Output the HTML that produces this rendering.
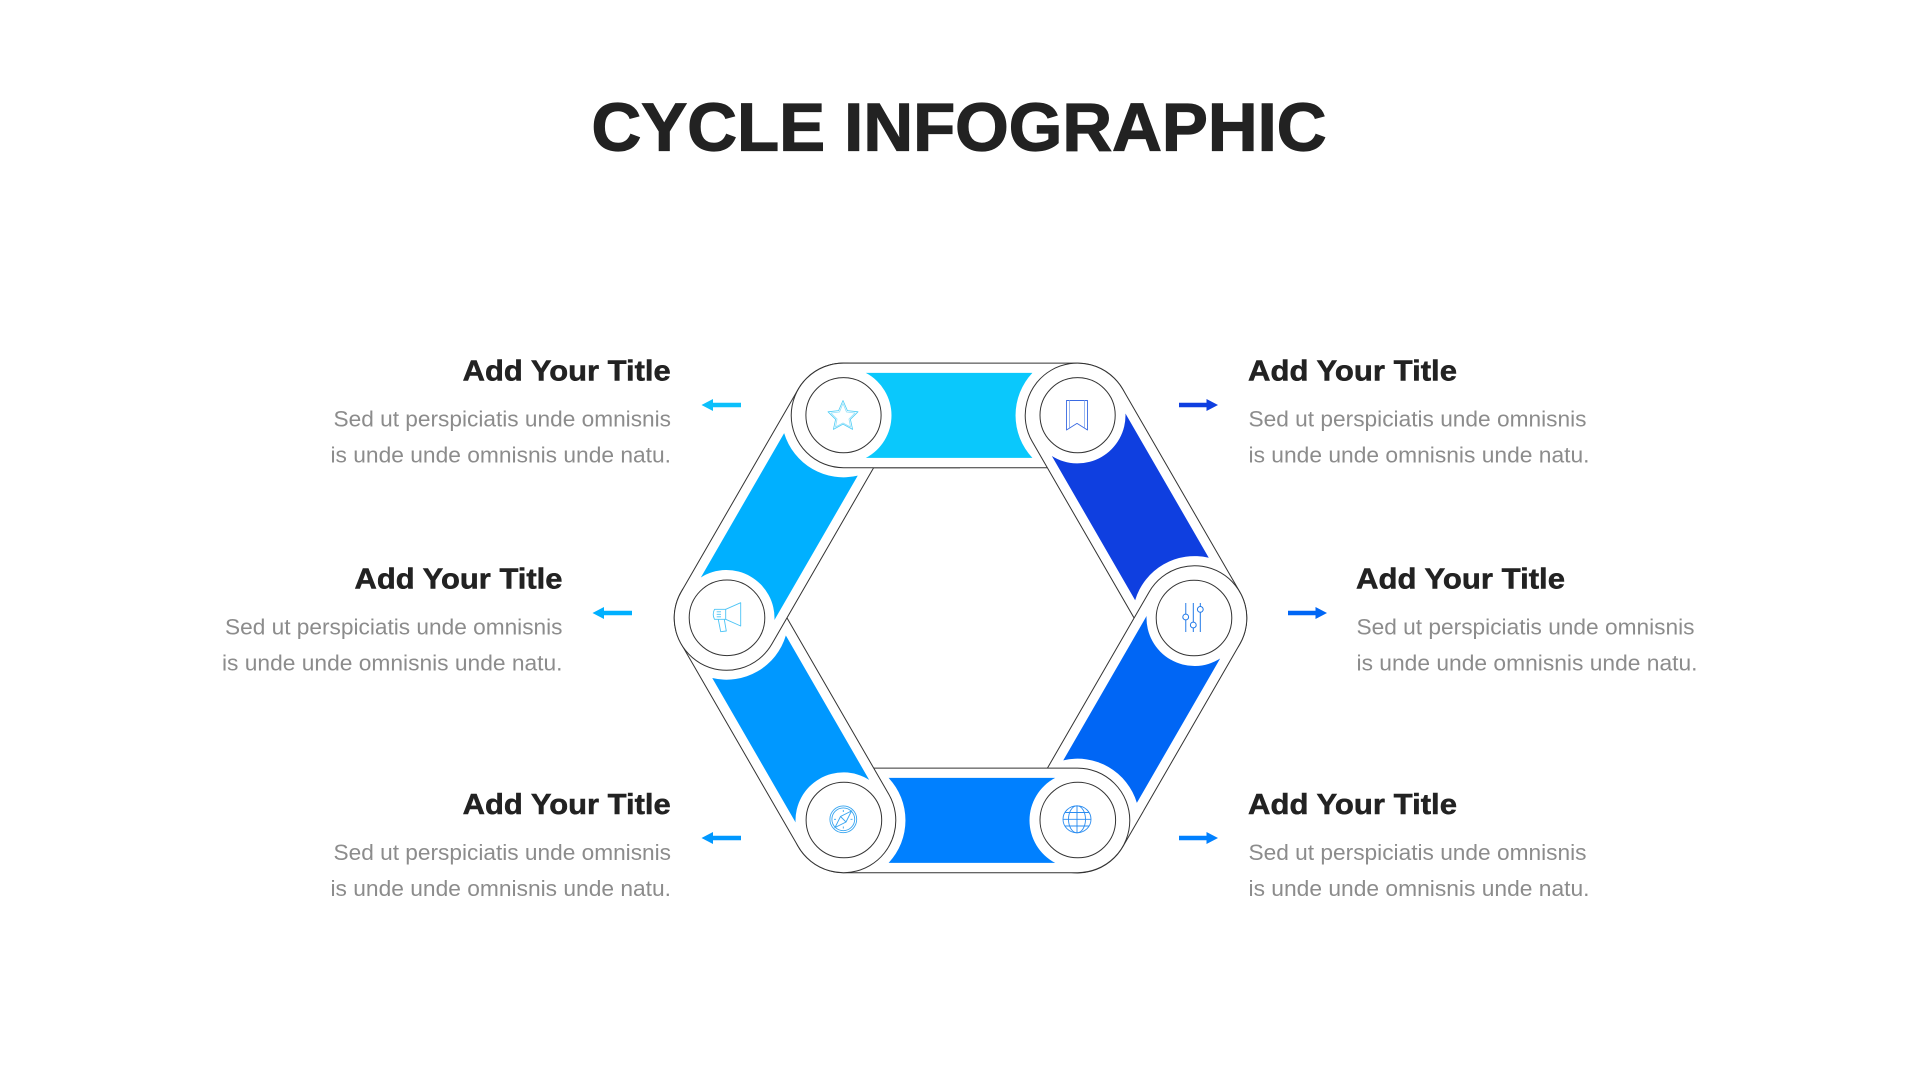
<!DOCTYPE html>
<html>
<head>
<meta charset="utf-8">
<title>Cycle Infographic</title>
<style>
html,body{margin:0;padding:0;background:#fff;width:1920px;height:1080px;overflow:hidden}
svg{display:block}
text{font-family:"Liberation Sans",Arial,sans-serif}
.t{font-size:29px;font-weight:700;fill:#222;stroke:#222;stroke-width:.5}
.b{font-size:22.5px;fill:#8c8c8c}
.s{fill:#fff;stroke:#333;stroke-width:1}
.c{fill:#fff;stroke:#333;stroke-width:1}
</style>
</head>
<body>
<svg width="1920" height="1080" viewBox="0 0 1920 1080" xmlns="http://www.w3.org/2000/svg">
<defs>
<clipPath id="lh"><rect x="0" y="0" width="960" height="1080"/></clipPath>
</defs>
<rect width="1920" height="1080" fill="#fff"/>

<text x="591.5" y="150.7" font-size="68" font-weight="700" fill="#222" stroke="#222" stroke-width="1.2" textLength="735" lengthAdjust="spacingAndGlyphs">CYCLE INFOGRAPHIC</text>

<!-- stadiums -->
<g>
<path class="s" transform="translate(843.5 415.4)" d="M0 -52.3H234A52.3 52.3 0 0 1 234 52.3H0A52.3 52.3 0 0 1 0 -52.3Z"/>
<path class="s" transform="translate(1077.5 415.4) rotate(60)" d="M0 -52.3H234A52.3 52.3 0 0 1 234 52.3H0A52.3 52.3 0 0 1 0 -52.3Z"/>
<path class="s" transform="translate(1194.5 618) rotate(120)" d="M0 -52.3H234A52.3 52.3 0 0 1 234 52.3H0A52.3 52.3 0 0 1 0 -52.3Z"/>
<path class="s" transform="translate(1077.5 820.4) rotate(180)" d="M0 -52.3H234A52.3 52.3 0 0 1 234 52.3H0A52.3 52.3 0 0 1 0 -52.3Z"/>
<path class="s" transform="translate(843.5 820.4) rotate(240)" d="M0 -52.3H234A52.3 52.3 0 0 1 234 52.3H0A52.3 52.3 0 0 1 0 -52.3Z"/>
<path class="s" transform="translate(726.5 618) rotate(300)" d="M0 -52.3H234A52.3 52.3 0 0 1 234 52.3H0A52.3 52.3 0 0 1 0 -52.3Z"/>
<g clip-path="url(#lh)">
<path class="s" transform="translate(843.5 415.4)" d="M0 -52.3H234A52.3 52.3 0 0 1 234 52.3H0A52.3 52.3 0 0 1 0 -52.3Z"/>
</g>
</g>

<!-- coloured bands -->
<g>
<path fill="#0ac8fc" transform="translate(843.5 415.4)" d="M22.3 -42.5H188.9A62 62 0 0 0 188.9 42.5H22.3A48 48 0 0 0 22.3 -42.5Z"/>
<path fill="#0f3fe0" transform="translate(1077.5 415.4) rotate(60)" d="M22.3 -42.5H188.9A62 62 0 0 0 188.9 42.5H22.3A48 48 0 0 0 22.3 -42.5Z"/>
<path fill="#0066f5" transform="translate(1194.5 618) rotate(120)" d="M22.3 -42.5H188.9A62 62 0 0 0 188.9 42.5H22.3A48 48 0 0 0 22.3 -42.5Z"/>
<path fill="#0080ff" transform="translate(1077.5 820.4) rotate(180)" d="M22.3 -42.5H188.9A62 62 0 0 0 188.9 42.5H22.3A48 48 0 0 0 22.3 -42.5Z"/>
<path fill="#0098ff" transform="translate(843.5 820.4) rotate(240)" d="M22.3 -42.5H188.9A62 62 0 0 0 188.9 42.5H22.3A48 48 0 0 0 22.3 -42.5Z"/>
<path fill="#00b0ff" transform="translate(726.5 618) rotate(300)" d="M22.3 -42.5H188.9A62 62 0 0 0 188.9 42.5H22.3A48 48 0 0 0 22.3 -42.5Z"/>
</g>

<!-- inner circles -->
<circle class="c" cx="843.5" cy="415.2" r="37.6"/>
<circle class="c" cx="1077.6" cy="415.2" r="37.6"/>
<circle class="c" cx="1194" cy="618" r="37.8"/>
<circle class="c" cx="1077.8" cy="820" r="37.8"/>
<circle class="c" cx="843.9" cy="820" r="37.8"/>
<circle class="c" cx="727" cy="617.8" r="37.8"/>

<!-- star -->
<g fill="none" stroke="#4ccdf6" stroke-width=".8" stroke-linejoin="round">
<path d="M843 400.5 L847.4 410.6 L858 411.8 L850.4 419.3 L852.6 429.4 L843 424.2 L833.4 429.4 L835.6 419.3 L828 411.8 L838.6 410.6Z"/>
<path opacity=".6" d="M843 403.5 L846.5 412 L855 413 L849 419 L850.5 427 L843 423 L835.5 427 L837 419 L831 413 L839.5 412Z"/>
</g>

<!-- bookmark -->
<g fill="none" stroke="#3a6ae2" stroke-width=".9" stroke-linejoin="round">
<path d="M1066.5 400.5H1087.5V430L1077 423.4L1066.5 430Z"/>
<path stroke="#8fb0f0" d="M1069.5 400.5V427.5M1084.5 400.5V427.5"/>
</g>

<!-- sliders -->
<g fill="#fff" stroke="#1f78e8" stroke-width="1">
<path d="M1185.7 603V614M1185.7 620V632" stroke="#5a9cee" stroke-width="1.3"/>
<path d="M1193.3 603V622M1193.3 628V632"/>
<path d="M1200.3 603V606.5M1200.3 612.5V632"/>
<circle cx="1185.7" cy="617" r="2.9"/>
<circle cx="1193.3" cy="625" r="2.9"/>
<circle cx="1200.3" cy="609.4" r="2.9"/>
</g>

<!-- globe -->
<g fill="none" stroke="#2a8cf0" stroke-width=".9">
<ellipse cx="1077" cy="819.3" rx="14" ry="13.5"/>
<ellipse cx="1077" cy="819.3" rx="8.5" ry="13.5"/>
<path d="M1077 805.8V832.8M1063 819.3H1091M1065 812.5H1089M1065 826H1089"/>
</g>

<!-- compass -->
<g fill="none" stroke="#38a5f0" stroke-width=".9">
<circle cx="843.3" cy="819.3" r="13.4"/>
<circle cx="843.3" cy="819.3" r="11.4"/>
<path d="M851.5 811 L846 822 L835 827.5 L840.5 816.5Z"/>
<path d="M846 822 L840.5 816.5"/>
<path d="M843.3 810V812M843.3 826.5V828.5M834 819.3H836M850.5 819.3H852.5"/>
</g>

<!-- megaphone -->
<g fill="none" stroke="#4cc4f5" stroke-width=".9" stroke-linejoin="round">
<path d="M725.7 609.3L740.7 602.7V626L725.7 619.3"/>
<path d="M714.5 609.3H725.7V619.3H714.5Q712 614.3 714.5 609.3Z"/>
<path d="M718.3 619.5L720.7 631.7L726.3 631L724.3 619.5"/>
<path d="M716.7 611.8H721M716.7 614.3H721M716.7 616.8H721"/>
</g>

<!-- arrows -->
<path fill="#0cc0fb" d="M701.5 405L713 399V402.8H741V407.2H713V411Z"/>
<path fill="#00b0ff" d="M592.5 613L604 607V610.8H632V615.2H604V619Z"/>
<path fill="#0098ff" d="M701.5 838L713 832V835.8H741V840.2H713V844Z"/>
<path fill="#0f3fe0" d="M1218 405L1206.5 399V402.8H1179V407.2H1206.5V411Z"/>
<path fill="#0066f5" d="M1327 613L1315.5 607V610.8H1288V615.2H1315.5V619Z"/>
<path fill="#0080ff" d="M1218 838L1206.5 832V835.8H1179V840.2H1206.5V844Z"/>

<!-- top left -->
<text class="t" x="462.7" y="380.7" textLength="208" lengthAdjust="spacingAndGlyphs">Add Your Title</text>
<text class="b" x="333.5" y="426.7" textLength="337.5" lengthAdjust="spacingAndGlyphs">Sed ut perspiciatis unde omnisnis</text>
<text class="b" x="330.5" y="462.5" textLength="340.5" lengthAdjust="spacingAndGlyphs">is unde unde omnisnis unde natu.</text>
<!-- mid left -->
<text class="t" x="354.5" y="588.7" textLength="208" lengthAdjust="spacingAndGlyphs">Add Your Title</text>
<text class="b" x="225" y="634.7" textLength="337.5" lengthAdjust="spacingAndGlyphs">Sed ut perspiciatis unde omnisnis</text>
<text class="b" x="222" y="670.5" textLength="340.5" lengthAdjust="spacingAndGlyphs">is unde unde omnisnis unde natu.</text>
<!-- bottom left -->
<text class="t" x="462.7" y="814.2" textLength="208" lengthAdjust="spacingAndGlyphs">Add Your Title</text>
<text class="b" x="333.5" y="860.2" textLength="337.5" lengthAdjust="spacingAndGlyphs">Sed ut perspiciatis unde omnisnis</text>
<text class="b" x="330.5" y="896" textLength="340.5" lengthAdjust="spacingAndGlyphs">is unde unde omnisnis unde natu.</text>
<!-- top right -->
<text class="t" x="1248" y="380.7" textLength="209" lengthAdjust="spacingAndGlyphs">Add Your Title</text>
<text class="b" x="1248.5" y="426.7" textLength="338" lengthAdjust="spacingAndGlyphs">Sed ut perspiciatis unde omnisnis</text>
<text class="b" x="1248.5" y="462.5" textLength="341" lengthAdjust="spacingAndGlyphs">is unde unde omnisnis unde natu.</text>
<!-- mid right -->
<text class="t" x="1356" y="588.7" textLength="209" lengthAdjust="spacingAndGlyphs">Add Your Title</text>
<text class="b" x="1356.5" y="634.7" textLength="338" lengthAdjust="spacingAndGlyphs">Sed ut perspiciatis unde omnisnis</text>
<text class="b" x="1356.5" y="670.5" textLength="341" lengthAdjust="spacingAndGlyphs">is unde unde omnisnis unde natu.</text>
<!-- bottom right -->
<text class="t" x="1248" y="814.2" textLength="209" lengthAdjust="spacingAndGlyphs">Add Your Title</text>
<text class="b" x="1248.5" y="860.2" textLength="338" lengthAdjust="spacingAndGlyphs">Sed ut perspiciatis unde omnisnis</text>
<text class="b" x="1248.5" y="896" textLength="341" lengthAdjust="spacingAndGlyphs">is unde unde omnisnis unde natu.</text>
</svg>
</body>
</html>
